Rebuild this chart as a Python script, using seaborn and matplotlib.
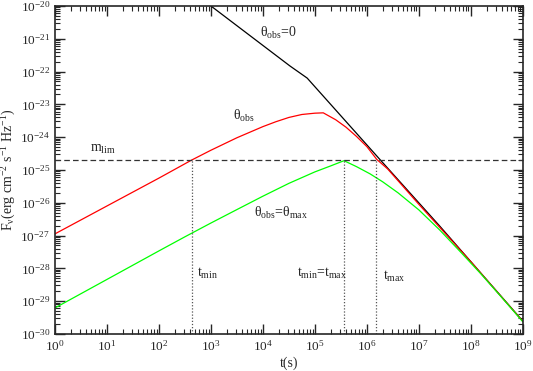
import numpy as np
import pandas as pd
import matplotlib
matplotlib.use("Agg")
import matplotlib.pyplot as plt
from matplotlib.ticker import LogLocator, NullFormatter
import seaborn as sns

# light curves (t in s, F in erg cm^-2 s^-1 Hz^-1)
t_on = [1e3, 3.31e4, 7.11e4, 1.82e6, 2.51e7, 1e9]
F_on = [1e-20, 1.48e-22, 6.31e-23, 2.0e-25, 1.95e-27, 2.45e-30]

t_obs = [1, 10, 100, 427, 1e3, 3.16e3, 1e4, 1.78e4, 3.16e4, 5.62e4, 1e5, 1.45e5,
         2.51e5, 3.98e5, 6.31e5, 1e6, 1.55e6, 2.51e6, 3.98e6, 1e7, 2.51e7, 1e8, 1e9]
F_obs = [1.12e-27, 7.94e-27, 5.62e-26, 2.0e-25, 3.98e-25, 9.55e-25, 2.09e-24,
         2.95e-24, 3.98e-24, 4.90e-24, 5.37e-24, 5.50e-24, 3.39e-24, 2.0e-24,
         1.05e-24, 5.13e-25, 2.09e-25, 1.07e-25, 4.68e-26, 8.91e-27, 1.78e-27,
         1.58e-28, 2.40e-30]

t_max = [1, 10, 100, 316, 1e3, 3.16e3, 1e4, 3.16e4, 1e5, 2.0e5, 3.63e5, 6.31e5,
         1.15e6, 2.0e6, 3.98e6, 1e7, 2.51e7, 6.31e7, 1.58e8, 3.98e8, 1e9]
F_max = [6.17e-30, 4.57e-29, 3.39e-28, 9.12e-28, 2.40e-27, 6.17e-27, 1.58e-26,
         3.89e-26, 8.71e-26, 1.32e-25, 1.91e-25, 1.26e-25, 7.59e-26, 4.37e-26,
         2.0e-26, 6.03e-27, 1.48e-27, 3.16e-28, 6.61e-29, 1.26e-29, 2.34e-30]

F_lim = 2.0e-25
t_marks = [427, 3.63e5, 1.48e6]

x_ticks = [1e0, 1e1, 1e2, 1e3, 1e4, 1e5, 1e6, 1e7, 1e8, 1e9]
y_ticks = [1e-30, 1e-29, 1e-28, 1e-27, 1e-26, 1e-25, 1e-24, 1e-23, 1e-22, 1e-21, 1e-20]

df = pd.concat([
    pd.DataFrame({"t": t_on, "F": F_on, "curve": "on"}),
    pd.DataFrame({"t": t_obs, "F": F_obs, "curve": "obs"}),
    pd.DataFrame({"t": t_max, "F": F_max, "curve": "max"}),
])

sns.set_style("ticks")
plt.rcParams["font.family"] = ["Liberation Serif", "DejaVu Serif"]
plt.rcParams["mathtext.fontset"] = "custom"
plt.rcParams["mathtext.rm"] = "Liberation Serif"
plt.rcParams["mathtext.default"] = "regular"
plt.rcParams["axes.unicode_minus"] = False

fig = plt.figure(figsize=(5.33, 3.71), dpi=100)
ax = fig.add_axes([0.103, 0.1, 0.878, 0.884])

sns.lineplot(data=df, x="t", y="F", hue="curve", sort=False, estimator=None,
             palette={"on": "black", "obs": "#ff0000", "max": "#00ff00"},
             linewidth=0.9, legend=False, ax=ax)

ax.axhline(F_lim, color="#333333", lw=0.9, dashes=(4.5, 2.5))
ax.vlines(t_marks, 1e-30, F_lim, colors="#555555", lw=0.9, linestyles=(0, (1, 1.5)))

ax.set_xscale("log")
ax.set_yscale("log")
ax.set_xlim(1, 1e9)
ax.set_ylim(1e-30, 1e-20)

ax.set_xticks(x_ticks)
ax.set_yticks(y_ticks)
for axis in (ax.xaxis, ax.yaxis):
    axis.set_minor_locator(LogLocator(base=10, subs=np.arange(2, 10), numticks=200))
    axis.set_minor_formatter(NullFormatter())
ax.tick_params(which="both", direction="in", top=True, right=True, labelsize=9.5)
ax.tick_params(which="major", length=7, width=1)
ax.tick_params(which="minor", length=3.5, width=0.8)
for s in ax.spines.values():
    s.set_linewidth(1.2)

ax.set_xlabel("t(s)", fontsize=10, labelpad=2)
ax.set_ylabel(r"F$_{\nu}$(erg cm$^{-2}$ s$^{-1}$ Hz$^{-1}$)", fontsize=10, labelpad=2)

fs = 10
ax.text(10**3.94, 10**-20.95, r"$\theta_{obs}$=0", fontsize=fs)
ax.text(10**3.42, 10**-23.48, r"$\theta_{obs}$", fontsize=fs)
ax.text(10**0.67, 10**-24.45, r"m$_{lim}$", fontsize=fs)
ax.text(10**3.83, 10**-26.43, r"$\theta_{obs}$=$\theta_{max}$", fontsize=fs)
ax.text(10**2.73, 10**-28.26, r"t$_{min}$", fontsize=fs)
ax.text(10**4.65, 10**-28.26, r"t$_{min}$=t$_{max}$", fontsize=fs)
ax.text(10**6.31, 10**-28.35, r"t$_{max}$", fontsize=fs)

fig.savefig("out.png", dpi=100)
